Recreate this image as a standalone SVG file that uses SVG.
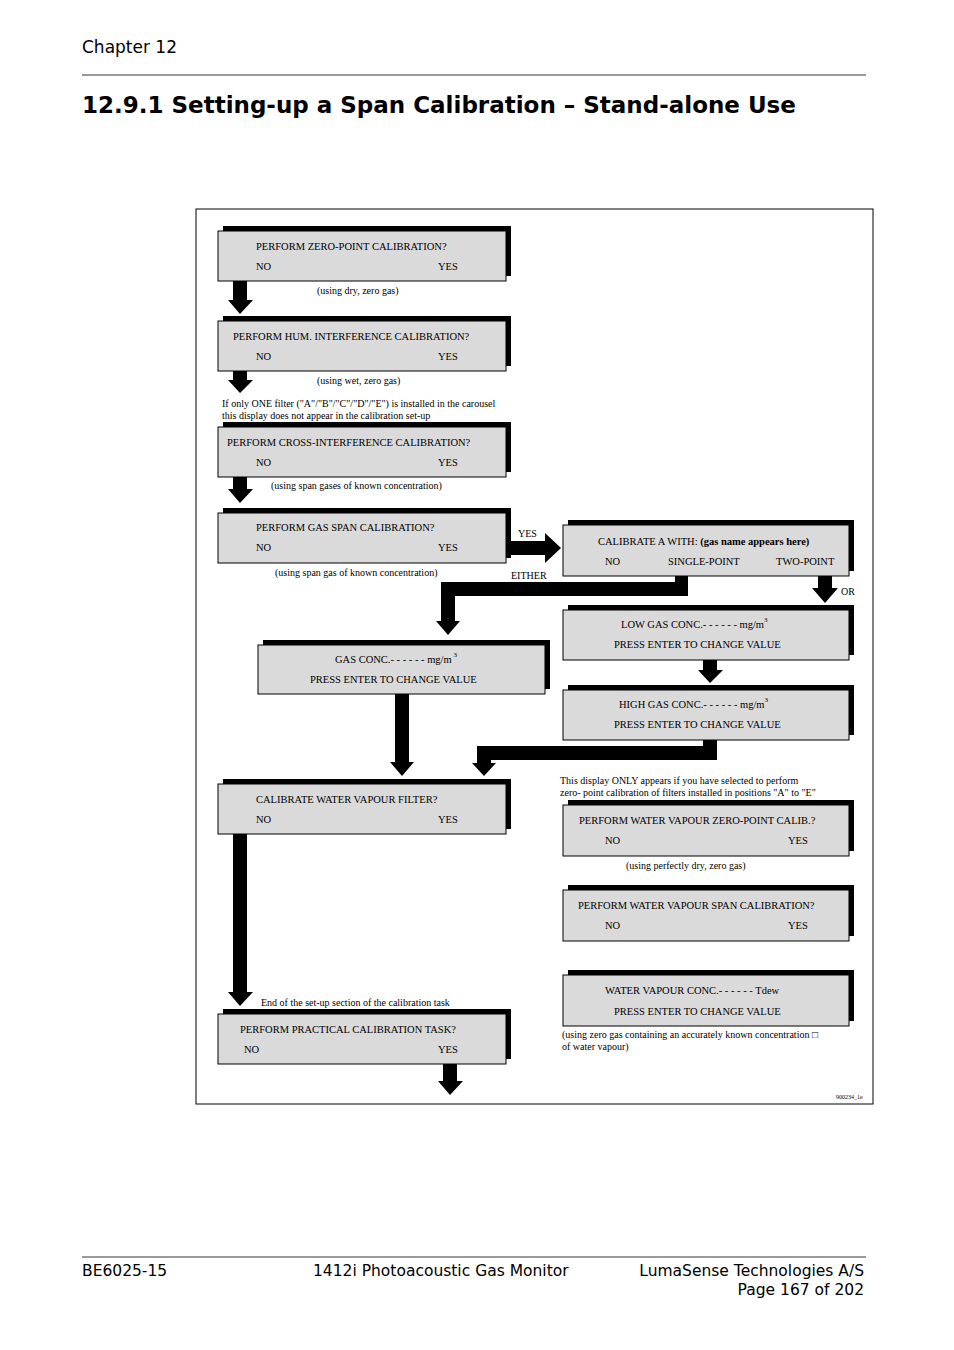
<svg xmlns="http://www.w3.org/2000/svg" width="954" height="1350" viewBox="0 0 954 1350">
<style>
.h{font-family:"DejaVu Sans",Verdana,sans-serif;fill:#000}
.t{font-family:"Liberation Serif","Times New Roman",serif;font-size:10.5px;fill:#000}
.s{font-family:"Liberation Serif","Times New Roman",serif;font-size:10px;fill:#000}
.bx{fill:#dadada;stroke:#000;stroke-width:1}
.sh{fill:#000}
.ar{fill:#000}
</style>
<rect width="954" height="1350" fill="#fff"/>
<text class="h" x="82" y="53" font-size="17">Chapter 12</text>
<line x1="82" y1="75" x2="866" y2="75" stroke="#000" stroke-width="0.8"/>
<text class="h" x="82" y="113" font-size="23" font-weight="bold">12.9.1   Setting-up a Span Calibration – Stand-alone Use</text>
<rect x="196" y="209" width="677" height="895" fill="none" stroke="#000" stroke-width="1"/>

<g id="n1"><rect class="sh" x="223" y="226" width="288" height="50"/><rect class="bx" x="218" y="231" width="288" height="50"/><text class="t" x="256" y="250">PERFORM   ZERO-POINT  CALIBRATION?</text><text class="t" x="256" y="270">NO</text><text class="t" x="438" y="270">YES</text></g>
<text class="s" x="317" y="294">(using dry, zero gas)</text>
<g id="n2"><rect class="sh" x="223" y="316" width="288" height="50"/><rect class="bx" x="218" y="321" width="288" height="50"/><text class="t" x="233" y="340">PERFORM   HUM. INTERFERENCE  CALIBRATION?</text><text class="t" x="256" y="360">NO</text><text class="t" x="438" y="360">YES</text></g>
<text class="s" x="317" y="384">(using wet, zero gas)</text>
<text class="s" x="222" y="407">If only ONE filter ("A"/"B"/"C"/"D"/"E") is installed in the carousel</text>
<text class="s" x="222" y="419">this display does not appear in the calibration set-up</text>
<g id="n3"><rect class="sh" x="223" y="422" width="288" height="50"/><rect class="bx" x="218" y="427" width="288" height="50"/><text class="t" x="227" y="446">PERFORM   CROSS-INTERFERENCE  CALIBRATION?</text><text class="t" x="256" y="466">NO</text><text class="t" x="438" y="466">YES</text></g>
<text class="s" x="271" y="489">(using span gases of known concentration)</text>
<g id="n4"><rect class="sh" x="223" y="508" width="288" height="50"/><rect class="bx" x="218" y="513" width="288" height="50"/><text class="t" x="256" y="531">PERFORM   GAS   SPAN   CALIBRATION?</text><text class="t" x="256" y="551">NO</text><text class="t" x="438" y="551">YES</text></g>
<text class="s" x="275" y="576">(using span gas of known concentration)</text>
<g id="n5"><rect class="sh" x="568" y="520" width="286" height="51"/><rect class="bx" x="563" y="525" width="286" height="51"/><text class="t" x="598" y="545">CALIBRATE A WITH:   <tspan font-weight="bold">(gas name appears here)</tspan></text><text class="t" x="605" y="565">NO</text><text class="t" x="668" y="565">SINGLE-POINT</text><text class="t" x="776" y="565">TWO-POINT</text></g>
<g id="n6"><rect class="sh" x="263" y="640" width="287" height="49"/><rect class="bx" x="258" y="645" width="287" height="49"/><text class="t" x="335" y="663">GAS  CONC.- - - - - - mg/m<tspan dy="-6" font-size="7"> 3</tspan></text><text class="t" x="310" y="683">PRESS ENTER TO CHANGE VALUE</text></g>
<g id="n7"><rect class="sh" x="568" y="605" width="286" height="50"/><rect class="bx" x="563" y="610" width="286" height="50"/><text class="t" x="621" y="628">LOW   GAS   CONC.- - - - - - mg/m<tspan dy="-6" font-size="7">3</tspan></text><text class="t" x="614" y="648">PRESS ENTER TO CHANGE VALUE</text></g>
<g id="n8"><rect class="sh" x="568" y="685" width="286" height="50"/><rect class="bx" x="563" y="690" width="286" height="50"/><text class="t" x="619" y="708">HIGH   GAS   CONC.- - - - - - mg/m<tspan dy="-6" font-size="7">3</tspan></text><text class="t" x="614" y="728">PRESS ENTER TO CHANGE VALUE</text></g>
<g id="n9"><rect class="sh" x="223" y="779" width="288" height="50"/><rect class="bx" x="218" y="784" width="288" height="50"/><text class="t" x="256" y="803">CALIBRATE   WATER VAPOUR   FILTER?</text><text class="t" x="256" y="823">NO</text><text class="t" x="438" y="823">YES</text></g>
<text class="s" x="560" y="784">This display ONLY appears if you have selected to perform</text>
<text class="s" x="560" y="796">zero- point calibration of filters installed in positions "A" to "E"</text>
<g id="n10"><rect class="sh" x="568" y="800" width="286" height="51"/><rect class="bx" x="563" y="805" width="286" height="51"/><text class="t" x="579" y="824">PERFORM WATER VAPOUR ZERO-POINT CALIB.?</text><text class="t" x="605" y="844">NO</text><text class="t" x="788" y="844">YES</text></g>
<text class="s" x="626" y="869">(using perfectly dry, zero gas)</text>
<g id="n11"><rect class="sh" x="568" y="885" width="286" height="51"/><rect class="bx" x="563" y="890" width="286" height="51"/><text class="t" x="578" y="909">PERFORM WATER VAPOUR SPAN CALIBRATION?</text><text class="t" x="605" y="929">NO</text><text class="t" x="788" y="929">YES</text></g>
<g id="n12"><rect class="sh" x="568" y="970" width="286" height="51"/><rect class="bx" x="563" y="975" width="286" height="51"/><text class="t" x="605" y="994">WATER VAPOUR    CONC.- - - - - - Tdew</text><text class="t" x="614" y="1015">PRESS ENTER TO CHANGE VALUE</text></g>
<text class="s" x="562" y="1038">(using zero gas containing an accurately known concentration  □</text>
<text class="s" x="562" y="1050">of water vapour)</text>
<text class="s" x="261" y="1006">End of the set-up section of the calibration task</text>
<g id="n13"><rect class="sh" x="223" y="1009" width="288" height="50"/><rect class="bx" x="218" y="1014" width="288" height="50"/><text class="t" x="240" y="1033">PERFORM    PRACTICAL    CALIBRATION    TASK?</text><text class="t" x="244" y="1053">NO</text><text class="t" x="438" y="1053">YES</text></g>
<text x="836" y="1099" font-family="Liberation Serif,serif" font-size="6">900234_1e</text>

<g id="connectors" class="ar">
<path class="ar" d="M233 281H247V300H253L240 314L228 300H233Z"/>
<path class="ar" d="M233 371H247V380H253L240 393L228 380H233Z"/>
<path class="ar" d="M233 477H247V489H253L240 503L228 489H233Z"/>
<path class="ar" d="M510 541H545V533L561 548L545 563V555H510Z"/>
<path class="ar" d="M675 576H688V596H455V621H460L448 635L436 621H441V582H675Z"/>
<path class="ar" d="M818 576H832V588H838L825 603L812 588H818Z"/>
<path class="ar" d="M703 660H717V670H723L710 683L698 670H703Z"/>
<path class="ar" d="M395 694H409V762H414L402 776L390 762H395Z"/>
<path class="ar" d="M703 740H717V760H491V763H496L484 776L472 763H477V746H703Z"/>
<path class="ar" d="M233 834H247V992H253L240 1006L228 992H233Z"/>
<path class="ar" d="M443 1064H457V1081H463L450 1095L438 1081H443Z"/>
<text class="s" x="518" y="537">YES</text>
<text class="s" x="511" y="579">EITHER</text>
<text class="s" x="841" y="595">OR</text>
</g>

<line x1="82" y1="1257" x2="866" y2="1257" stroke="#000" stroke-width="0.8"/>
<text class="h" x="82" y="1276" font-size="15.5">BE6025-15</text>
<text class="h" x="313" y="1276" font-size="15.5">1412i Photoacoustic Gas Monitor</text>
<text class="h" x="864" y="1276" font-size="15.5" text-anchor="end">LumaSense Technologies A/S</text>
<text class="h" x="864" y="1295" font-size="15.5" text-anchor="end">Page 167 of 202</text>
</svg>
